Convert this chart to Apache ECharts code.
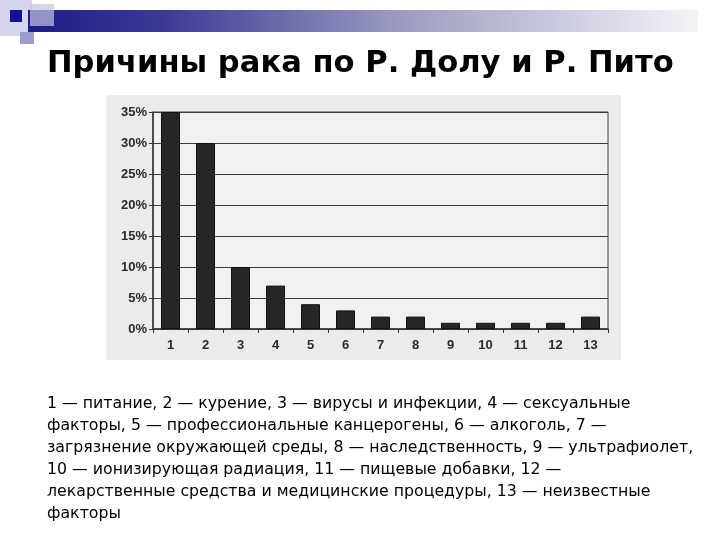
<!DOCTYPE html>
<html>
<head>
<meta charset="utf-8">
<style>
  html, body { margin: 0; padding: 0; background: #ffffff; }
  #chart { width: 720px; height: 540px; }
</style>
<script src="https://cdn.jsdelivr.net/npm/echarts@6/dist/echarts.min.js"></script>
</head>
<body>
<div id="chart"></div>
<script>
// данные с диаграммы (доля причин, %)
var categories = ['1', '2', '3', '4', '5', '6', '7', '8', '9', '10', '11', '12', '13'];
var shares = [35, 30, 10, 7, 4, 3, 2, 2, 1, 1, 1, 1, 2];
var yTicks = [0, 5, 10, 15, 20, 25, 30, 35];

var titleText = 'Причины рака по Р. Долу и Р. Пито';
var captionLines = [
  '1 — питание, 2 — курение, 3 — вирусы и инфекции, 4 — сексуальные',
  'факторы, 5 — профессиональные канцерогены, 6 — алкоголь, 7 —',
  'загрязнение окружающей среды, 8 — наследственность, 9 — ультрафиолет,',
  '10 — ионизирующая радиация, 11 — пищевые добавки, 12 —',
  'лекарственные средства и медицинские процедуры, 13 — неизвестные',
  'факторы'
];

var chart = echarts.init(document.getElementById('chart'));

var option = {
  backgroundColor: '#ffffff',
  animation: false,
  title: {
    text: titleText,
    left: 42,
    top: 44,
    textStyle: {
      fontFamily: 'DejaVu Sans',
      fontWeight: 'bold',
      fontSize: 30.6,
      color: '#000000'
    }
  },
  graphic: [
    // шапка слайда
    {
      type: 'rect', shape: { x: 0, y: 0, width: 32, height: 36 },
      style: { fill: '#d4d4ec' }, z: 1
    },
    {
      type: 'rect', shape: { x: 28, y: 10, width: 670, height: 22 },
      style: {
        fill: new echarts.graphic.LinearGradient(0, 0, 1, 0, [
          { offset: 0, color: '#1c1c8a' },
          { offset: 0.2, color: '#3a3a96' },
          { offset: 0.55, color: '#9a9ac0' },
          { offset: 1, color: '#f4f4f8' }
        ])
      }, z: 1
    },
    {
      type: 'rect', shape: { x: 30, y: 4, width: 24, height: 22 },
      style: { fill: '#c4c4e0', opacity: 0.7 }, z: 2
    },
    {
      type: 'rect', shape: { x: 10, y: 10, width: 12, height: 12 },
      style: { fill: '#10109a' }, z: 3
    },
    {
      type: 'rect', shape: { x: 20, y: 32, width: 14, height: 12 },
      style: { fill: '#9c9ccc' }, z: 2
    },
    // фон диаграммы
    {
      type: 'rect', shape: { x: 106, y: 95, width: 515, height: 265 },
      style: { fill: '#ebebeb' }, z: -10
    },
    {
      type: 'text',
      left: 47, top: 393,
      style: {
        text: captionLines.join('\n'),
        fontFamily: 'DejaVu Sans',
        fontSize: 15.75,
        lineHeight: 22,
        fill: '#000000'
      }
    }
  ],
  grid: {
    left: 153,
    right: 112,
    top: 112,
    bottom: 211,
    show: true,
    backgroundColor: '#f1f1f1',
    borderColor: '#444444',
    borderWidth: 1
  },
  xAxis: {
    type: 'category',
    data: categories,
    axisLine: { lineStyle: { color: '#333333', width: 1.5 } },
    axisTick: { show: true, length: 4, lineStyle: { color: '#333333' } },
    axisLabel: {
      margin: 10,
      fontFamily: 'Liberation Sans, Arial',
      fontWeight: 'bold',
      fontSize: 13,
      color: '#2a2a2a'
    }
  },
  yAxis: {
    type: 'value',
    min: 0,
    max: 35,
    interval: 5,
    axisLine: { show: true, lineStyle: { color: '#333333', width: 1.5 } },
    axisTick: { show: true, length: 4, lineStyle: { color: '#333333' } },
    splitLine: { lineStyle: { color: '#3a3a3a', width: 1.2 } },
    axisLabel: {
      margin: 6,
      fontFamily: 'Liberation Sans, Arial',
      fontWeight: 'bold',
      fontSize: 13,
      color: '#2a2a2a',
      formatter: function (v) {
        return yTicks.indexOf(v) >= 0 ? v + '%' : '';
      }
    }
  },
  series: [{
    type: 'bar',
    data: shares,
    barWidth: 19,
    itemStyle: {
      color: '#262626',
      borderColor: '#111111',
      borderWidth: 1
    }
  }]
};

chart.setOption(option);
</script>
</body>
</html>
